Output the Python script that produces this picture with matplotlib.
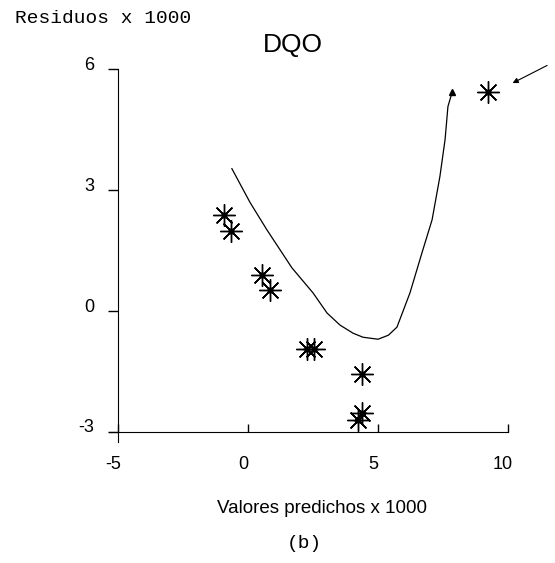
import matplotlib.pyplot as plt
from matplotlib.transforms import ScaledTranslation

plt.rcParams['axes.unicode_minus'] = False

# residuals vs predicted values (both x 1000)
pred = [-0.92, -0.65, 0.54, 0.85, 2.27, 2.54, 4.38, 4.38, 4.23, 9.23]
resid = [2.39, 1.99, 0.90, 0.52, -0.95, -0.95, -1.57, -2.54, -2.71, 5.42]

# smoothed trend through the residuals
trend_x = [-0.62, 0.08, 0.73, 1.69, 2.5, 3.04, 3.54, 4.04, 4.42, 5.0, 5.4,
           5.73, 6.23, 6.69, 7.08, 7.38, 7.58, 7.69, 7.85]
trend_y = [3.53, 2.69, 2.01, 1.07, 0.45, -0.05, -0.35, -0.55, -0.65, -0.70,
           -0.60, -0.40, 0.45, 1.44, 2.26, 3.33, 4.25, 5.07, 5.42]

x_ticks = [-5, 0, 5, 10]
y_ticks = [-3, 0, 3, 6]

sans = ['Liberation Sans Narrow', 'Liberation Sans', 'DejaVu Sans']
mono = ['Liberation Mono', 'DejaVu Sans Mono']

fig = plt.figure(figsize=(5.55, 5.63), dpi=100)
ax = fig.add_axes([0.2126, 0.2327, 0.7027, 0.6447])

ax.plot(trend_x, trend_y, color='black', lw=0.9)
ax.plot(trend_x[-1], trend_y[-1], marker='^', color='black', ms=4)

ax.plot(pred, resid, ls='none', marker=(8, 2, 0), ms=16, mew=1.0,
        color='black')
ax.plot(pred, resid, ls='none', marker='o', ms=3.5, color='black')

ax.annotate('', xy=(10.08, 5.62), xytext=(11.6, 6.12),
            arrowprops=dict(arrowstyle='-|>', color='black', lw=0.8,
                            mutation_scale=8),
            annotation_clip=False)

ax.set_xlim(-5, 10)
ax.set_ylim(-3, 6)
ax.set_xticks(x_ticks)
ax.set_yticks(y_ticks)
ax.spines['top'].set_visible(False)
ax.spines['right'].set_visible(False)
ax.spines['left'].set_bounds(-3.25, 6)
ax.spines['bottom'].set_bounds(-5.35, 10)
ax.tick_params(axis='x', direction='in', length=6, width=1, pad=17)
ax.tick_params(axis='y', direction='out', length=7, width=1, pad=10)

# labels sit a little left of / above their ticks
shift_x = ScaledTranslation(-0.05, 0, fig.dpi_scale_trans)
shift_y = ScaledTranslation(0, 0.06, fig.dpi_scale_trans)
for lbl in ax.get_xticklabels():
    lbl.set_transform(lbl.get_transform() + shift_x)
for lbl in ax.get_yticklabels():
    lbl.set_transform(lbl.get_transform() + shift_y)
for lbl in ax.get_xticklabels() + ax.get_yticklabels():
    lbl.set_family(sans)
    lbl.set_fontsize(13)

fig.text(0.528, 0.92, 'DQO', ha='center', va='center', fontsize=19,
         family=sans)
fig.text(0.027, 0.968, 'Residuos x 1000', ha='left', va='center',
         fontsize=14, family=mono)
fig.text(0.580, 0.097, 'Valores predichos x 1000', ha='center',
         va='center', fontsize=13.5, family=sans)
fig.text(0.548, 0.035, '(b)', ha='center', va='center', fontsize=14,
         family=mono)

fig.savefig('out.png', dpi=100)
